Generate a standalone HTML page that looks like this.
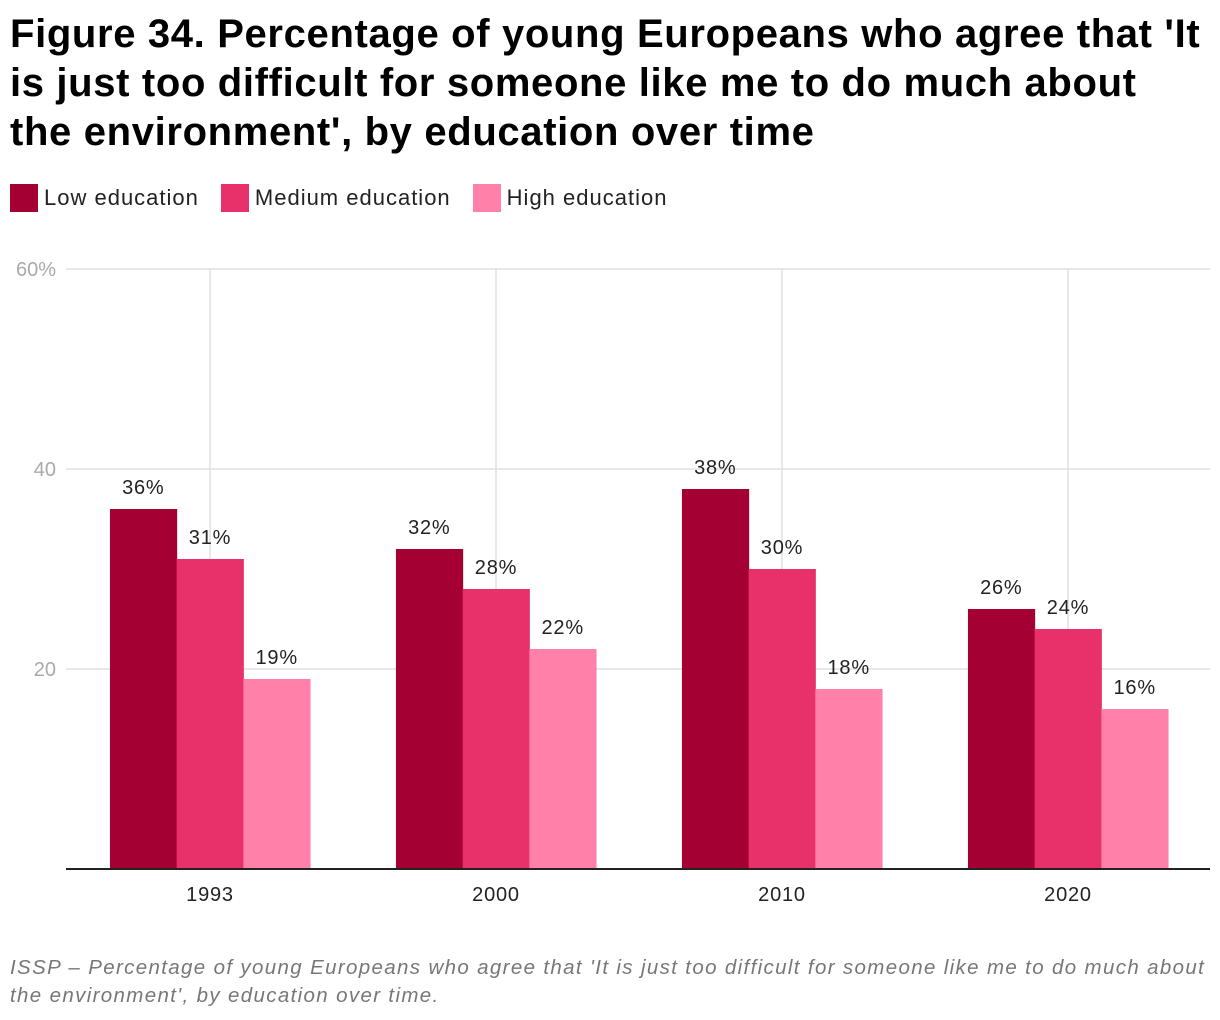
<!DOCTYPE html>
<html><head><meta charset="utf-8">
<style>
body{margin:0;background:#fff;font-family:"Liberation Sans",Roboto,sans-serif;}
#wrap{position:relative;width:1220px;height:1020px;overflow:hidden;}
h1{position:absolute;left:10px;top:10px;margin:0;font-size:40px;line-height:49px;font-weight:bold;color:#000;white-space:nowrap;letter-spacing:0.65px}
.legend{position:absolute;top:184px;left:10px;display:flex;font-size:22px;color:#222;letter-spacing:1px}
.li{display:flex;align-items:center;margin-right:22px}
.sw{width:28px;height:28px;margin-right:6px}
.foot{position:absolute;left:10px;top:954px;font-size:20.5px;font-style:italic;color:#777;line-height:28px;white-space:nowrap;letter-spacing:1.35px}
</style></head><body>
<div id="wrap">
<h1>Figure 34. Percentage of young Europeans who agree that 'It<br>is just too difficult for someone like me to do much about<br>the environment', by education over time</h1>
<div class="legend">
<div class="li"><div class="sw" style="background:#a50034"></div>Low education</div>
<div class="li"><div class="sw" style="background:#e8306a"></div>Medium education</div>
<div class="li"><div class="sw" style="background:#ff80a8"></div>High education</div>
</div>
<svg id="chart" width="1220" height="1020" style="position:absolute;left:0;top:0"></svg>
<div class="foot">ISSP – Percentage of young Europeans who agree that 'It is just too difficult for someone like me to do much about<br>the environment', by education over time.</div>
</div>
<script>
const categories=["1993","2000","2010","2020"];
const lowValues=[36,32,38,26];
const mediumValues=[31,28,30,24];
const highValues=[19,22,18,16];
const yTicks=[0,20,40,60];
const yTickLabels=["","20","40","60%"];
const seriesColors=["#a50034","#e8306a","#ff80a8"];
const NS="http://www.w3.org/2000/svg";
const svg=document.getElementById('chart');
const x0=66,x1=1210,yTop=269,yBase=869,yMax=60;
const y=v=>yBase-(v/yMax)*(yBase-yTop);
const groupW=(x1-x0)/categories.length;
const gx=i=>x0+groupW*(i+0.5)+1;
const barW=66.7;
function mk(t,a){const e=document.createElementNS(NS,t);for(const k in a)e.setAttribute(k,a[k]);svg.appendChild(e);return e;}
yTicks.forEach((t,i)=>{
 if(t>0){const l=mk('line',{x1:x0,x2:x1,y1:y(t),y2:y(t),stroke:'#e0e0e0','stroke-width':1.5});
 
 }
 const tx=mk('text',{x:56,y:y(t)+7,'text-anchor':'end','font-size':20,fill:'#aaa','font-family':'Liberation Sans, sans-serif'});
 tx.textContent=yTickLabels[i];
 
 
});
categories.forEach((c,i)=>{
 const l=mk('line',{x1:gx(i),x2:gx(i),y1:yTop,y2:yBase,stroke:'#e0e0e0','stroke-width':1.5});
 
 
});
[lowValues,mediumValues,highValues].forEach((vals,s)=>{
 vals.forEach((v,i)=>{
  const bx=gx(i)-1.5*barW+s*barW;
  const r=mk('rect',{x:bx,y:y(v),width:barW+0.5,height:yBase-y(v),fill:seriesColors[s]});
  
  
  const t=mk('text',{x:bx+barW/2,y:y(v)-15,'text-anchor':'middle','font-size':20,fill:'#222','font-family':'Liberation Sans, sans-serif','letter-spacing':'0.8'});
  t.textContent=v+'%';
  
  
 });
});
const ax=mk('line',{x1:x0,x2:x1,y1:yBase,y2:yBase,stroke:'#222','stroke-width':2});


categories.forEach((c,i)=>{
 const t=mk('text',{x:gx(i),y:901,'text-anchor':'middle','font-size':20,fill:'#222','font-family':'Liberation Sans, sans-serif','letter-spacing':'0.8'});
 t.textContent=c;
 
 
});
</script>
</body></html>
